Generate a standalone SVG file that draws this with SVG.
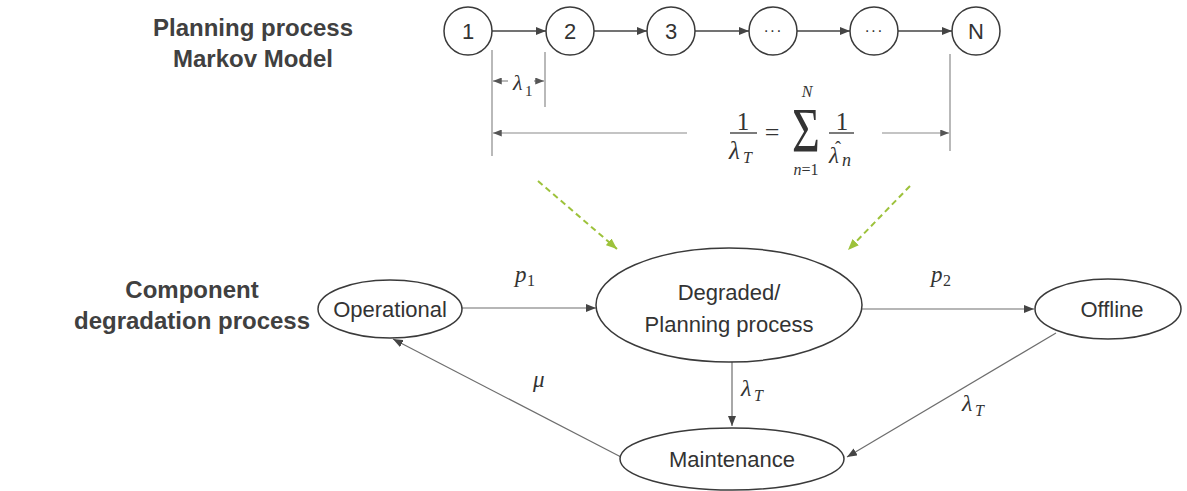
<svg xmlns="http://www.w3.org/2000/svg" width="1187" height="491" viewBox="0 0 1187 491">
<defs>
<style>
.node{fill:#fff;stroke:#3a3a3a;stroke-width:1.5}
.lbl{font-family:"Liberation Sans",Arial,sans-serif;font-size:22px;fill:#333;text-anchor:middle}
.title{font-family:"Liberation Sans",Arial,sans-serif;font-size:24px;font-weight:bold;fill:#404040;text-anchor:middle}
.math{font-family:"Liberation Serif","Times New Roman",serif;font-style:italic;fill:#333}
.mathr{font-family:"Liberation Serif","Times New Roman",serif;fill:#333}
.edge{fill:none;stroke:#6e6e6e;stroke-width:1.2}
.chain{fill:none;stroke:#444;stroke-width:1.6}
.dim{fill:none;stroke:#8a8a8a;stroke-width:1.2}
.green{fill:none;stroke:#9dc23b;stroke-width:2;stroke-dasharray:6,4}
</style>
<marker id="ah" viewBox="0 0 10 8" refX="10" refY="4" markerWidth="10" markerHeight="8" markerUnits="userSpaceOnUse" orient="auto">
<path d="M0,0 L10,4 L0,8 Z" fill="#444"/>
</marker>
<marker id="ahs" viewBox="0 0 10 8" refX="10" refY="4" markerWidth="9" markerHeight="7" markerUnits="userSpaceOnUse" orient="auto">
<path d="M0,0 L10,4 L0,8 Z" fill="#555"/>
</marker>
<marker id="ahg" viewBox="0 0 10 8" refX="10" refY="4" markerWidth="11" markerHeight="9" markerUnits="userSpaceOnUse" orient="auto">
<path d="M0,0 L10,4 L0,8 Z" fill="#9dc23b"/>
</marker>
</defs>
<rect width="1187" height="491" fill="#fff"/>

<text class="title" x="253" y="36">Planning process</text>
<text class="title" x="253" y="67">Markov Model</text>
<text class="title" x="192" y="298">Component</text>
<text class="title" x="192" y="329">degradation process</text>

<g id="connectors">
<line class="chain" x1="492" y1="31" x2="546" y2="31" marker-end="url(#ah)"/>
<line class="chain" x1="594" y1="31" x2="647" y2="31" marker-end="url(#ah)"/>
<line class="chain" x1="695" y1="31" x2="749" y2="31" marker-end="url(#ah)"/>
<line class="chain" x1="797" y1="31" x2="850" y2="31" marker-end="url(#ah)"/>
<line class="chain" x1="898" y1="31" x2="952" y2="31" marker-end="url(#ah)"/>

<line class="dim" x1="492" y1="50" x2="492" y2="156"/>
<line class="dim" x1="545" y1="52" x2="545" y2="107"/>
<line class="dim" x1="950" y1="54" x2="950" y2="151"/>
<line class="dim" x1="508" y1="81" x2="493" y2="81" marker-end="url(#ahs)"/>
<line class="dim" x1="534" y1="81" x2="544" y2="81" marker-end="url(#ahs)"/>
<line class="dim" x1="687" y1="133" x2="493" y2="133" marker-end="url(#ahs)"/>
<line class="dim" x1="882" y1="133" x2="949" y2="133" marker-end="url(#ahs)"/>

<line class="green" x1="538" y1="181" x2="617" y2="249" marker-end="url(#ahg)"/>
<line class="green" x1="910" y1="186" x2="848" y2="250" marker-end="url(#ahg)"/>

<line class="edge" x1="462" y1="308" x2="596" y2="308" marker-end="url(#ah)"/>
<line class="edge" x1="862" y1="309" x2="1034" y2="309" marker-end="url(#ah)"/>
<line class="edge" x1="732" y1="362" x2="732" y2="426" marker-end="url(#ah)"/>
<line class="edge" x1="1056" y1="333" x2="847" y2="457" marker-end="url(#ah)"/>
<line class="edge" x1="621" y1="457" x2="393" y2="339" marker-end="url(#ah)"/>
</g>

<g id="n1"><circle class="node" cx="468" cy="31" r="24"/><text class="lbl" x="468" y="39">1</text></g>
<g id="n2"><circle class="node" cx="570" cy="31" r="24"/><text class="lbl" x="570" y="39">2</text></g>
<g id="n3"><circle class="node" cx="671" cy="31" r="24"/><text class="lbl" x="671" y="39">3</text></g>
<g id="n4"><circle class="node" cx="773" cy="31" r="24"/><text class="lbl" x="773" y="36" style="font-size:16px;letter-spacing:1px">···</text></g>
<g id="n5"><circle class="node" cx="874" cy="31" r="24"/><text class="lbl" x="874" y="36" style="font-size:16px;letter-spacing:1px">···</text></g>
<g id="nN"><circle class="node" cx="976" cy="31" r="24"/><text class="lbl" x="976" y="39">N</text></g>

<g id="operational"><ellipse class="node" cx="390" cy="309" rx="72" ry="29"/><text class="lbl" x="390" y="317">Operational</text></g>
<g id="degraded"><ellipse class="node" cx="729" cy="305" rx="133" ry="57"/><text class="lbl" x="729" y="300">Degraded/</text><text class="lbl" x="729" y="332">Planning process</text></g>
<g id="offline"><ellipse class="node" cx="1108" cy="309" rx="73" ry="30"/><text class="lbl" x="1112" y="317">Offline</text></g>
<g id="maintenance"><ellipse class="node" cx="732" cy="459" rx="112" ry="31"/><text class="lbl" x="732" y="467">Maintenance</text></g>

<g id="labels">
<text class="math" x="513" y="90" font-size="22">λ</text><text class="mathr" x="525" y="96" font-size="15">1</text>
<text class="mathr" x="743" y="130" font-size="25" text-anchor="middle">1</text>
<line x1="730" y1="133" x2="757" y2="133" stroke="#333" stroke-width="1.3"/>
<text class="math" x="729" y="159" font-size="25">λ</text><text class="math" x="743" y="163" font-size="16">T</text>
<text class="mathr" x="772" y="141" font-size="26" text-anchor="middle">=</text>
<text class="mathr" font-size="48" text-anchor="middle" transform="translate(806,152) scale(1,1.3)">Σ</text>
<text class="math" x="807" y="97" font-size="16" text-anchor="middle">N</text>
<text class="math" x="806" y="175" font-size="16" text-anchor="middle">n<tspan font-style="normal">=1</tspan></text>
<text class="mathr" x="842" y="130" font-size="25" text-anchor="middle">1</text>
<line x1="829" y1="133" x2="854" y2="133" stroke="#333" stroke-width="1.3"/>
<text class="mathr" x="838" y="154" font-size="18" text-anchor="middle">ˆ</text>
<text class="math" x="829" y="163" font-size="23">λ</text><text class="math" x="842" y="166" font-size="18">n</text>
<text class="math" x="515" y="282" font-size="23">p</text><text class="mathr" x="527" y="286" font-size="16">1</text>
<text class="math" x="931" y="282" font-size="23">p</text><text class="mathr" x="943" y="286" font-size="16">2</text>
<text class="math" x="741" y="396" font-size="24">λ</text><text class="math" x="754" y="401" font-size="16">T</text>
<text class="math" x="962" y="411" font-size="24">λ</text><text class="math" x="975" y="416" font-size="16">T</text>
<text class="math" x="533" y="387" font-size="23">μ</text>
</g>
</svg>
